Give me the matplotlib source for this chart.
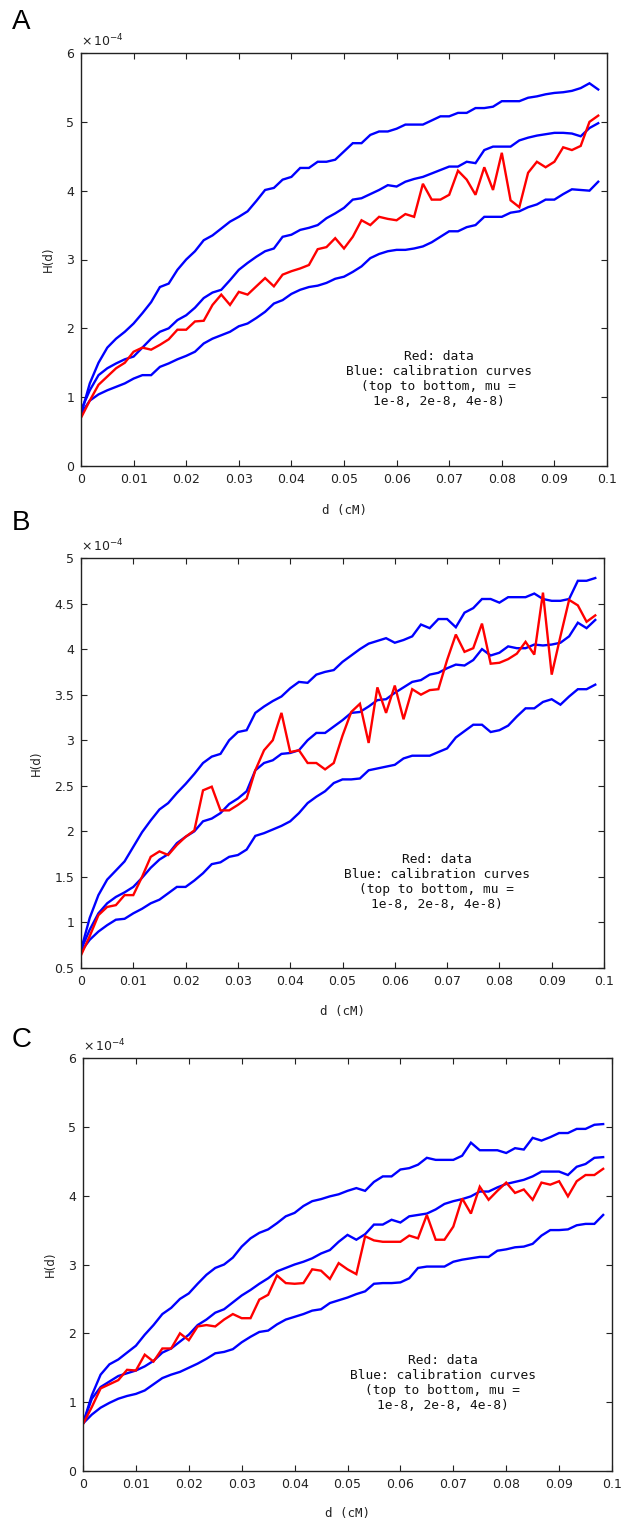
import matplotlib
matplotlib.use("Agg")
import matplotlib.pyplot as plt

# sample positions d (cM)
d = [0.0, 0.00167, 0.00333, 0.005, 0.00667, 0.00833, 0.01, 0.01167, 0.01333, 0.015,
     0.01667, 0.01833, 0.02, 0.02167, 0.02333, 0.025, 0.02667, 0.02833, 0.03, 0.03167,
     0.03333, 0.035, 0.03667, 0.03833, 0.04, 0.04167, 0.04333, 0.045, 0.04667, 0.04833,
     0.05, 0.05167, 0.05333, 0.055, 0.05667, 0.05833, 0.06, 0.06167, 0.06333, 0.065,
     0.06667, 0.06833, 0.07, 0.07167, 0.07333, 0.075, 0.07667, 0.07833, 0.08, 0.08167,
     0.08333, 0.085, 0.08667, 0.08833, 0.09, 0.09167, 0.09333, 0.095, 0.09667, 0.09833]

# ---- Panel A (values in units of 1e-4) ----
A_red = [0.70, 0.95, 1.18, 1.30, 1.42, 1.50, 1.66, 1.72, 1.69, 1.76,
         1.84, 1.98, 1.98, 2.10, 2.11, 2.34, 2.49, 2.34, 2.53, 2.49,
         2.61, 2.73, 2.61, 2.78, 2.83, 2.87, 2.92, 3.15, 3.18, 3.31,
         3.16, 3.33, 3.57, 3.50, 3.62, 3.59, 3.57, 3.66, 3.62, 4.10,
         3.87, 3.87, 3.94, 4.29, 4.16, 3.94, 4.34, 4.01, 4.55, 3.86,
         3.76, 4.26, 4.42, 4.34, 4.42, 4.63, 4.59, 4.65, 5.00, 5.09]
A_top = [0.75, 1.20, 1.50, 1.72, 1.85, 1.95, 2.07, 2.22, 2.38, 2.60,
         2.65, 2.85, 3.00, 3.12, 3.28, 3.35, 3.45, 3.55, 3.62, 3.70,
         3.85, 4.01, 4.04, 4.16, 4.20, 4.33, 4.33, 4.42, 4.42, 4.45,
         4.57, 4.69, 4.69, 4.81, 4.86, 4.86, 4.90, 4.96, 4.96, 4.96,
         5.02, 5.08, 5.08, 5.13, 5.13, 5.20, 5.20, 5.22, 5.30, 5.30,
         5.30, 5.35, 5.37, 5.40, 5.42, 5.43, 5.45, 5.49, 5.56, 5.47]
A_mid = [0.81, 1.10, 1.32, 1.42, 1.49, 1.55, 1.59, 1.72, 1.85, 1.95,
         2.00, 2.12, 2.19, 2.30, 2.44, 2.52, 2.56, 2.70, 2.85, 2.95,
         3.04, 3.12, 3.16, 3.33, 3.36, 3.43, 3.46, 3.50, 3.60, 3.67,
         3.75, 3.87, 3.89, 3.95, 4.01, 4.08, 4.06, 4.13, 4.17, 4.20,
         4.25, 4.30, 4.35, 4.35, 4.42, 4.40, 4.59, 4.64, 4.64, 4.64,
         4.73, 4.77, 4.80, 4.82, 4.84, 4.84, 4.83, 4.79, 4.91, 4.98]
A_bot = [0.76, 0.95, 1.04, 1.10, 1.15, 1.20, 1.27, 1.32, 1.32, 1.44,
         1.49, 1.55, 1.60, 1.66, 1.78, 1.85, 1.90, 1.95, 2.03, 2.07,
         2.15, 2.24, 2.36, 2.41, 2.50, 2.56, 2.60, 2.62, 2.66, 2.72,
         2.75, 2.82, 2.90, 3.02, 3.08, 3.12, 3.14, 3.14, 3.16, 3.19,
         3.25, 3.33, 3.41, 3.41, 3.47, 3.50, 3.62, 3.62, 3.62, 3.68,
         3.70, 3.76, 3.80, 3.87, 3.87, 3.95, 4.02, 4.01, 4.00, 4.13]

# ---- Panel B ----
B_red = [0.64, 0.85, 1.08, 1.17, 1.19, 1.30, 1.30, 1.50, 1.72, 1.78,
         1.74, 1.85, 1.94, 2.01, 2.45, 2.49, 2.23, 2.23, 2.29, 2.36,
         2.67, 2.89, 3.00, 3.30, 2.87, 2.89, 2.75, 2.75, 2.68, 2.75,
         3.05, 3.31, 3.40, 2.97, 3.58, 3.30, 3.60, 3.23, 3.56, 3.50,
         3.55, 3.56, 3.88, 4.16, 3.97, 4.01, 4.28, 3.84, 3.85, 3.89,
         3.95, 4.08, 3.94, 4.62, 3.72, 4.14, 4.54, 4.48, 4.30, 4.37]
B_top = [0.70, 1.05, 1.30, 1.47, 1.57, 1.67, 1.83, 1.99, 2.12, 2.24,
         2.31, 2.42, 2.52, 2.63, 2.75, 2.82, 2.85, 3.00, 3.09, 3.11,
         3.30, 3.37, 3.43, 3.48, 3.57, 3.64, 3.63, 3.72, 3.75, 3.77,
         3.86, 3.93, 4.00, 4.06, 4.09, 4.12, 4.07, 4.10, 4.14, 4.27,
         4.23, 4.33, 4.33, 4.24, 4.40, 4.45, 4.55, 4.55, 4.51, 4.57,
         4.57, 4.57, 4.61, 4.55, 4.53, 4.53, 4.55, 4.75, 4.75, 4.78]
B_mid = [0.70, 0.92, 1.10, 1.21, 1.28, 1.33, 1.39, 1.49, 1.60, 1.69,
         1.75, 1.87, 1.94, 2.00, 2.11, 2.14, 2.20, 2.30, 2.36, 2.44,
         2.67, 2.75, 2.78, 2.85, 2.86, 2.89, 3.00, 3.08, 3.08, 3.15,
         3.22, 3.30, 3.31, 3.37, 3.44, 3.45, 3.52, 3.58, 3.64, 3.66,
         3.72, 3.74, 3.79, 3.83, 3.82, 3.88, 4.00, 3.93, 3.96, 4.03,
         4.01, 4.01, 4.05, 4.04, 4.05, 4.07, 4.14, 4.29, 4.23, 4.32]
B_bot = [0.68, 0.81, 0.90, 0.97, 1.03, 1.04, 1.10, 1.15, 1.21, 1.25,
         1.32, 1.39, 1.39, 1.46, 1.54, 1.64, 1.66, 1.72, 1.74, 1.80,
         1.95, 1.98, 2.02, 2.06, 2.11, 2.20, 2.31, 2.38, 2.44, 2.53,
         2.57, 2.57, 2.58, 2.67, 2.69, 2.71, 2.73, 2.80, 2.83, 2.83,
         2.83, 2.87, 2.91, 3.03, 3.10, 3.17, 3.17, 3.09, 3.11, 3.16,
         3.26, 3.35, 3.35, 3.42, 3.45, 3.39, 3.48, 3.56, 3.56, 3.61]

# ---- Panel C ----
C_red = [0.68, 0.93, 1.20, 1.26, 1.32, 1.47, 1.46, 1.69, 1.59, 1.78,
         1.78, 2.00, 1.90, 2.10, 2.12, 2.10, 2.20, 2.28, 2.22, 2.22,
         2.49, 2.56, 2.84, 2.73, 2.72, 2.73, 2.93, 2.91, 2.79, 3.02,
         2.93, 2.86, 3.41, 3.35, 3.33, 3.33, 3.33, 3.42, 3.38, 3.72,
         3.36, 3.36, 3.55, 3.96, 3.74, 4.13, 3.94, 4.07, 4.19, 4.04,
         4.09, 3.94, 4.19, 4.16, 4.21, 3.99, 4.21, 4.30, 4.30, 4.39]
C_top = [0.69, 1.10, 1.40, 1.55, 1.62, 1.72, 1.82, 1.98, 2.12, 2.28,
         2.37, 2.50, 2.58, 2.72, 2.85, 2.95, 3.00, 3.10, 3.26, 3.38,
         3.46, 3.51, 3.60, 3.70, 3.75, 3.85, 3.92, 3.95, 3.99, 4.02,
         4.07, 4.11, 4.07, 4.20, 4.28, 4.28, 4.38, 4.40, 4.45, 4.55,
         4.52, 4.52, 4.52, 4.58, 4.77, 4.66, 4.66, 4.66, 4.62, 4.69,
         4.67, 4.84, 4.80, 4.85, 4.91, 4.91, 4.97, 4.97, 5.03, 5.04]
C_mid = [0.69, 1.05, 1.22, 1.30, 1.38, 1.42, 1.46, 1.52, 1.60, 1.72,
         1.78, 1.88, 1.98, 2.12, 2.20, 2.30, 2.35, 2.45, 2.55, 2.63,
         2.72, 2.80, 2.90, 2.95, 3.00, 3.04, 3.09, 3.16, 3.21, 3.33,
         3.43, 3.36, 3.44, 3.58, 3.58, 3.65, 3.61, 3.70, 3.72, 3.74,
         3.80, 3.88, 3.92, 3.95, 3.99, 4.06, 4.06, 4.12, 4.17, 4.20,
         4.23, 4.28, 4.35, 4.35, 4.35, 4.30, 4.42, 4.46, 4.55, 4.56]
C_bot = [0.69, 0.82, 0.92, 0.99, 1.05, 1.09, 1.12, 1.17, 1.26, 1.35,
         1.40, 1.44, 1.50, 1.56, 1.63, 1.71, 1.73, 1.77, 1.87, 1.95,
         2.02, 2.04, 2.13, 2.20, 2.24, 2.28, 2.33, 2.35, 2.44, 2.48,
         2.52, 2.57, 2.61, 2.72, 2.73, 2.73, 2.74, 2.80, 2.95, 2.97,
         2.97, 2.97, 3.04, 3.07, 3.09, 3.11, 3.11, 3.20, 3.22, 3.25,
         3.26, 3.30, 3.42, 3.50, 3.50, 3.51, 3.57, 3.59, 3.59, 3.72]

x_ticks = [0, 0.01, 0.02, 0.03, 0.04, 0.05, 0.06, 0.07, 0.08, 0.09, 0.1]
x_ticklabels = ['0', '0.01', '0.02', '0.03', '0.04', '0.05', '0.06', '0.07', '0.08', '0.09', '0.1']
yA_ticks = [0, 1, 2, 3, 4, 5, 6]
yA_labels = ['0', '1', '2', '3', '4', '5', '6']
yB_ticks = [0.5, 1, 1.5, 2, 2.5, 3, 3.5, 4, 4.5, 5]
yB_labels = ['0.5', '1', '1.5', '2', '2.5', '3', '3.5', '4', '4.5', '5']

note = "Red: data\nBlue: calibration curves\n(top to bottom, mu =\n1e-8, 2e-8, 4e-8)"

W, H = 622, 1525
fig = plt.figure(figsize=(W / 100, H / 100), dpi=100)

panels = [
    dict(letter='A', rect=(81, 53, 607, 466), red=A_red, blues=(A_top, A_mid, A_bot),
         ylim=(0, 6), yt=yA_ticks, yl=yA_labels, note_xy=(0.068, 1.26), letter_y=22, xlab_y=510),
    dict(letter='B', rect=(81, 558, 604, 968), red=B_red, blues=(B_top, B_mid, B_bot),
         ylim=(0.5, 5), yt=yB_ticks, yl=yB_labels, note_xy=(0.068, 1.44), letter_y=523, xlab_y=1012),
    dict(letter='C', rect=(83, 1058, 612, 1471), red=C_red, blues=(C_top, C_mid, C_bot),
         ylim=(0, 6), yt=yA_ticks, yl=yA_labels, note_xy=(0.068, 1.28), letter_y=1040, xlab_y=1514),
]

for p in panels:
    l, t, r, b = p['rect']
    ax = fig.add_axes([l / W, 1 - b / H, (r - l) / W, (b - t) / H])
    for bl in p['blues']:
        ax.plot(d, bl, color=(0, 0, 1), lw=1.7, solid_joinstyle='miter')
    ax.plot(d, p['red'], color=(1, 0, 0), lw=1.7, solid_joinstyle='miter')
    ax.set_xlim(0, 0.1)
    ax.set_ylim(*p['ylim'])
    ax.set_xticks(x_ticks)
    ax.set_xticklabels(x_ticklabels)
    ax.set_yticks(p['yt'])
    ax.set_yticklabels(p['yl'])
    ax.tick_params(direction='in', length=4, width=0.8, top=True, right=True,
                   labelsize=9, pad=5, colors='#222222')
    for s in ax.spines.values():
        s.set_linewidth(1.0)
        s.set_color('#222222')
    ax.set_ylabel('H(d)', fontsize=8.5, labelpad=8, color='#222222')
    # x label at a fixed figure position
    fig.text(((l + r) / 2) / W, 1 - p['xlab_y'] / H, 'd (cM)', ha='center', va='center',
             fontsize=9, family='DejaVu Sans Mono', color='#222222')
    ax.text(0.0, 1.008, r'$\times\,10^{-4}$', transform=ax.transAxes, ha='left', va='bottom',
            fontsize=9, color='#222222')
    ax.text(p['note_xy'][0], p['note_xy'][1], note, ha='center', va='center',
            multialignment='center', fontsize=9.3, family='DejaVu Sans Mono',
            linespacing=1.2, color='#111111')
    fig.text(12 / W, 1 - p['letter_y'] / H, p['letter'], ha='left', va='center',
             fontsize=20, family='Liberation Sans', color='black')

fig.savefig('out.png', dpi=100)
